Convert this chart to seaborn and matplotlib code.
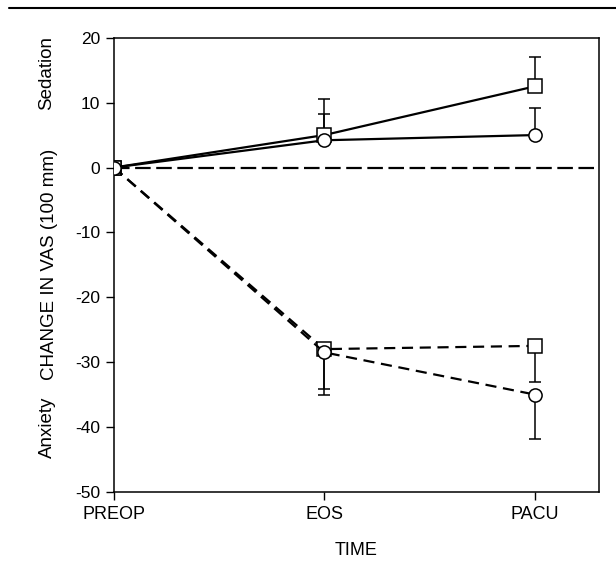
import pandas as pd
import matplotlib
matplotlib.use("Agg")
import matplotlib.pyplot as plt
from matplotlib.lines import Line2D
import seaborn as sns

# data
times = ["PREOP", "EOS", "PACU"]
sed_square = [0, 5.0, 12.5]
sed_square_err = [0, 5.5, 4.5]
sed_circle = [0, 4.2, 5.0]
sed_circle_err = [0, 4.0, 4.1]
anx_square = [0, -28.0, -27.5]
anx_square_err = [0, 6.2, 5.5]
anx_circle = [0, -28.5, -35.0]
anx_circle_err = [0, 6.5, 6.8]

yticks = [20, 10, 0, -10, -20, -30, -40, -50]

sns.set_style("ticks")
plt.rcParams['font.family'] = ['Liberation Sans', 'DejaVu Sans']
plt.rcParams.update({'text.color': 'black', 'axes.labelcolor': 'black',
                     'xtick.color': 'black', 'ytick.color': 'black'})

fig = plt.figure(figsize=(6.16, 5.64), dpi=100)
ax = fig.add_axes([0.185, 0.128, 0.787, 0.805])

x = list(range(len(times)))

# zero reference line
ax.axhline(0, color='black', lw=1.6, ls=(0, (7, 2.5)), zorder=1)

series = [
    (sed_square, sed_square_err, 's', '-', 1),
    (sed_circle, sed_circle_err, 'o', '-', 1),
    (anx_square, anx_square_err, 's', (0, (5, 3)), -1),
    (anx_circle, anx_circle_err, 'o', (0, (5, 3)), -1),
]

for vals, err, mk, ls, sign in series:
    df = pd.DataFrame({'x': x, 'y': vals})
    # one sided error bars (up for sedation, down for anxiety)
    lower = [0 if sign > 0 else e for e in err]
    upper = [e if sign > 0 else 0 for e in err]
    ax.errorbar(x[1:], vals[1:], yerr=[lower[1:], upper[1:]], fmt='none',
                ecolor='black', elinewidth=1.1, capsize=4, capthick=1.1, zorder=2)
    sns.lineplot(data=df, x='x', y='y', ax=ax, color='black', lw=1.6,
                 linestyle=ls, marker=mk, markersize=9.5, markerfacecolor='white',
                 markeredgecolor='black', markeredgewidth=1.1, zorder=3)

ax.set_xlim(0, 2.305)
ax.set_ylim(-50, 20)
ax.set_xticks(x)
ax.set_xticklabels(times, fontsize=13)
ax.set_yticks(yticks)
ax.set_yticklabels([str(v) for v in yticks], fontsize=12.5)
ax.tick_params(direction='out', length=6, width=1, pad=4, colors='black')
for s in ax.spines.values():
    s.set_visible(True)
    s.set_linewidth(1.1)
    s.set_color('black')

ax.set_xlabel("TIME", fontsize=13, labelpad=14)
ax.set_ylabel("CHANGE IN VAS (100 mm)", fontsize=13.5, labelpad=12)
ax.text(-0.138, -40, "Anxiety", rotation=90, fontsize=13.5, ha='center', va='center',
        transform=ax.get_yaxis_transform())
ax.text(-0.138, 14.5, "Sedation", rotation=90, fontsize=13.5, ha='center', va='center',
        transform=ax.get_yaxis_transform())

# rule line at top of page
fig.add_artist(Line2D([0.015, 1.0], [1 - 8 / 564] * 2, color='black', lw=1.5))

fig.savefig("out.png", dpi=100)
